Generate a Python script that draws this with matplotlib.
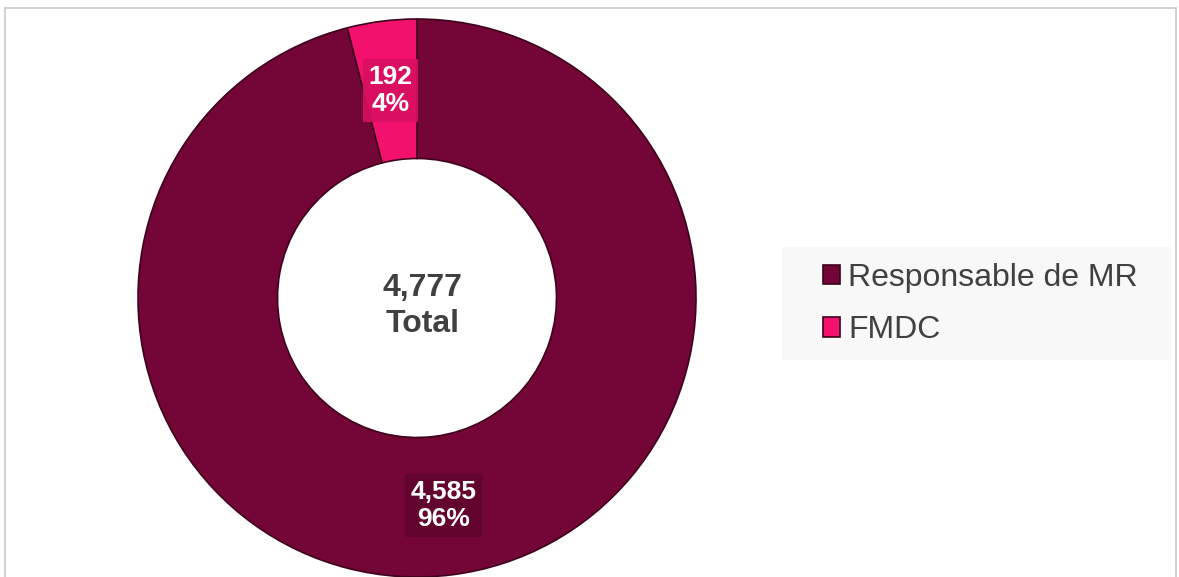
import matplotlib.pyplot as plt
from matplotlib.patches import Rectangle

categories = ['Responsable de MR', 'FMDC']
values = [4585, 192]
colours = ['#730537', '#F2126E']
label_boxes = ['#62042F', '#D80F60']
total_label = 'Total'

plt.rcParams['font.family'] = ['Liberation Sans', 'DejaVu Sans']

W, H = 1179, 577
fig = plt.figure(figsize=(W / 100, H / 100), dpi=100)

# outer frame of the chart area
fig.patches.append(Rectangle((5 / W, -0.01), (1176 - 5) / W, (H - 8) / H + 0.01,
                             transform=fig.transFigure, fill=False,
                             edgecolor='#C8C8C8', linewidth=1.2))

cx, cy, r = 417, H - 298, 279
ax = fig.add_axes([(cx - r) / W, (cy - r) / H, 2 * r / W, 2 * r / H])

total = sum(values)


def fmt(pct):
    v = int(round(pct * total / 100))
    return f'{v:,}\n{pct:.0f}%'


wedges, texts, autotexts = ax.pie(
    values, colors=colours, startangle=90, counterclock=False, radius=1,
    autopct=fmt, pctdistance=0.75,
    wedgeprops=dict(width=0.5, edgecolor='#3E021D', linewidth=1.2),
    textprops=dict(color='white', fontsize=19, fontweight='bold'))
ax.set_xlim(-1, 1)
ax.set_ylim(-1, 1)
ax.set_aspect('equal')
ax.axis('off')

for t, bc in zip(autotexts, label_boxes):
    t.set_linespacing(1.2)
    t.set_bbox(dict(boxstyle='square,pad=0.2', facecolor=bc, edgecolor='none', alpha=0.9))

ax.text(0.02, -0.03, f'{total:,}\n{total_label}', ha='center', va='center',
        fontsize=23, fontweight='bold', color='#404040', linespacing=1.25)

# legend panel
fig.patches.append(Rectangle((782 / W, 1 - 360 / H), (1172 - 782) / W, (360 - 247) / H,
                             transform=fig.transFigure, facecolor='#F8F8F8',
                             edgecolor='none', zorder=0))
fig.legend(wedges, categories, loc='center left',
           bbox_to_anchor=(794 / W, 1 - 304 / H), frameon=False,
           fontsize=23, handlelength=0.55, handleheight=0.55,
           handletextpad=0.25, labelspacing=0.7, labelcolor='#404040')

fig.savefig('out.png', dpi=100)
